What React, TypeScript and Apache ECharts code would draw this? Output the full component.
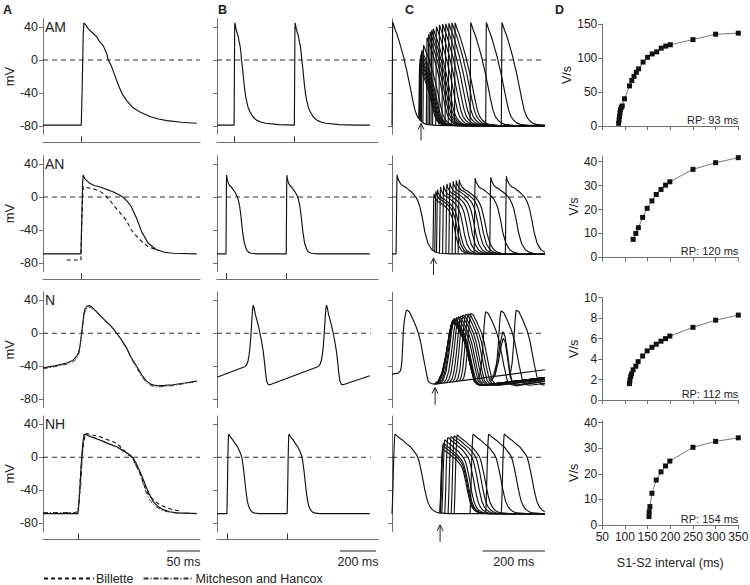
import React, { useEffect, useRef } from "react";
import * as echarts from "echarts";

type Pt = [number, number];

// ================= Column A: single action potentials (ms, mV) =================
// stimulus-relative AP shapes (t = 0 at stimulus)
const AP_AM: Pt[] = [[0,-79],[1.5,-30],[3,32],[4,45],[6,43.5],[10.5,38],[17,33],[23.5,28],[28,22],[33.5,17],[38.5,8],[41,0],[46,-8],[51,-19],[56,-30],[62,-41],[68.5,-49],[78,-57.5],[89,-63],[104,-68.5],[117,-71.5],[130,-73.5],[152,-75.5],[175,-76.7],[250,-78.3],[340,-79]];
const AP_AN: Pt[] = [[0,-69],[1.5,-20],[2.5,15],[3.4,26.7],[6,22],[13.4,16.6],[20,14],[28.4,12.5],[38,9.5],[48.4,6.4],[57,3],[63.4,0],[70,-5],[76.4,-11.8],[84.4,-25.8],[92,-42],[102,-56],[114.5,-64],[127,-67],[139.5,-68.2],[175.5,-69],[340,-69]];
const AP_NH: Pt[] = [[0,-68.4],[1.5,-55],[3,-37],[4.5,-15],[5.6,0],[7.5,18],[9,27],[10.6,28],[20,24.5],[33,21],[46,16.5],[58.7,12.8],[70,7.5],[79,2.8],[83.8,-1.2],[88,-7],[94,-17.3],[99,-27],[104,-37.3],[109,-46],[114,-53.5],[121,-59.5],[129,-63.5],[139,-66],[149.5,-67.5],[180,-68.4],[340,-68.4]];
const A_STIM_AM = 58;
const A_STIM_AN = 57.5;
const A_STIM_NH = 53;
const A_END = 233;
const A_N: Pt[] = [[0,-42],[18,-39.5],[36,-36],[45,-33],[51,-28],[54,-23],[56,-16],[57.5,-6],[58.6,0],[60.5,14],[62,24],[64,30],[67,33],[70,33.5],[74,32],[80,27],[86,22],[94,15.5],[101.5,10],[107,5],[111.7,0],[119,-8],[126.8,-18],[134,-30],[142,-40],[150,-51],[157,-58],[164,-62],[172,-63.6],[184,-63.2],[197,-62.4],[215,-60.3],[233,-58]];
const A_N_MH: Pt[] = [[0,-43],[18,-40.5],[36,-37.5],[45,-35],[51,-31],[54,-26],[56,-19],[57.5,-8],[59,0],[61,14],[63,24],[65,29],[68,31.5],[72,31.5],[78,27.5],[86,22],[94,15.5],[101.5,10],[107,5],[112,0],[119,-8.5],[127,-19],[134,-31],[142,-42],[150,-53],[157,-60],[164,-63.5],[172,-65],[184,-64.5],[197,-63.5],[215,-61],[233,-58.5]];
const A_AN_BILLETTE: Pt[] = [[36,-76.4],[57.5,-76.4],[58.5,-40],[60,0],[61,12.5],[66,11.5],[76,10],[86,7],[91,4.4],[96.5,0],[101.5,-4],[106,-9],[113,-15.8],[121,-23],[126,-28],[134,-40],[140,-46],[147,-52],[159,-60],[172,-64],[177,-65]];
const A_NH_BILLETTE: Pt[] = [[36,-67.5],[53,-67.5],[55,-50],[57,-20],[59,0],[62,20],[65,29],[75,27],[86,25],[99,21],[111.7,17],[121,10],[129,2.8],[132,2],[137,-3],[141,-10],[147,-19],[152,-31],[157,-41],[162,-47],[167,-51.5],[177,-57.5],[187,-61],[198,-63.8],[210,-65.5]];
const A_NH_MH: Pt[] = [[0,-67],[48,-67],[52,-66],[54,-58],[55,-45],[56.5,-42],[58,-25],[59.5,0],[61.5,18],[63,26],[65,28],[75,25],[90,20],[105,15],[118,9],[128,4],[134,0],[140,-8],[146,-18],[151,-30],[156,-42],[161,-51],[167,-57],[175,-62],[185,-65.5],[200,-67.5],[233,-68]];

// ================= Column B: paced / spontaneous trains =================
const B_STIM_AM = [95, 430];
const B_STIM_AN = [50, 385];
const B_STIM_NH = [55, 390];
const B_END = 850;
// nodal beat relative to its peak
const N_BEAT: Pt[] = [[-45,-40.3],[-37,-38],[-30,-34],[-24,-27],[-19,-18],[-14,-4],[-10,10],[-6,24],[-3,31],[0,34],[5,30],[12,22],[20,16],[28,9],[37,0],[46,-10],[55,-22],[62,-35],[68,-48],[74,-58],[83,-62],[92,-62.5]];
const B_N_PEAKS = [202, 609];
const B_N_START: Pt = [4, -53];
const B_N_END: Pt = [850, -51.6];

// ================= Column C: S1-S2 protocol =================
const C_END = 490;
const C_S1_AM: Pt[] = [[0,-79.5],[0.8,-40],[1.5,20],[2.1,46],[5,43],[10,37],[15,32.3],[22,24],[31,12],[37,4],[41.6,-4],[48,-14],[57.7,-32],[66,-48],[73.7,-61],[81,-68.5],[89.7,-73],[100,-76.5],[111,-78],[140,-79.2],[200,-79.5],[490,-79.5]];
const C_S1_T_AN = 13;
const C_S1_T_NH = 0;
const C_S1_N: Pt[] = [[0,-49.5],[20,-48.3],[26,-46],[28,-44],[30,-40],[32,-32],[34,-16],[36,0],[38.5,12],[41.6,20],[44,25],[47,28],[51,27.5],[55.5,26],[62,21],[68,16],[75,10],[81,4],[86,-2],[90,-8],[94,-15],[98,-24],[102,-32],[106,-40],[111,-50],[116,-58],[121,-60],[127,-61],[138,-61.6],[490,-44.3]];
const C_S1_REF_N = 26;
// two partial (sub-threshold) nodal humps
const C_N_HUMP_1: Pt[] = [[312,-57],[326,-50],[338,-32],[348,-10],[355,2],[362,-4],[370,-24],[378,-48],[386,-60],[398,-63],[490,-56]];
const C_N_HUMP_2: Pt[] = [[316,-58],[330,-51],[341,-34],[350,-15],[356,-6],[362,-10],[370,-30],[378,-52],[386,-61],[398,-64],[490,-58]];
const C_PEAK_AM = [-8,-4,0,3,6,9,12,18,27,31,34,36,38,40.5,42.5,43.5,44,44.5,45,45,45.5,45.5,45.5];
const C_APD_AM = [0.7,0.72,0.74,0.76,0.78,0.8,0.82,0.85,0.88,0.9,0.91,0.92,0.93,0.95,0.96,0.97,0.98,0.99,1,1,1,1,1];
const C_PEAK_AN = [4,7,9,12,14,16,17.5,19,20,21,23,24,25];
const C_APD_AN = [0.8,0.82,0.84,0.87,0.9,0.92,0.94,0.96,0.98,1,1,1,1];
const C_PEAK_N = [12,13,14,15,16,17,18,19,20,21,22,23,23.5,24,26,27,28];
const C_RISE_N = [60,58,56,54,51,48,45,42,38,35,32,30,28,27,24,23,22];
const C_PEAK_NH = [10,14,17,21,24,25,26,27,28,28,28];
const C_APD_NH = [0.85,0.87,0.88,0.9,0.93,0.95,0.97,1,1,1,1];
// nodal S2 response: rise (fraction of rise time, fraction of amplitude), repolarisation from peak
const N_RISE: Pt[] = [[0.2,0.05],[0.4,0.18],[0.6,0.45],[0.8,0.8],[0.9,0.93],[1,1]];
const N_REPOL: Pt[] = [[0,28],[8.5,26],[21,16],[34,4],[43,-8],[51,-24],[59,-40],[69,-57],[80,-62],[91,-63]];
const N_TAIL_SLOPE = 0.045;

// ================= Column D: Vmax vs S1-S2 interval =================
const D_AM: Pt[] = [[86,4],[87,9],[88,14],[89,19],[90,24],[92,27.5],[94,29.5],[99,40],[110,59],[115,67],[120,73],[125,79],[130,84],[140,94],[150,101],[160,106],[170,109],[180,114.5],[190,117.5],[200,119.5],[250,127],[300,135],[350,136.5]];
const D_AN: Pt[] = [[118,7.5],[124,10],[129.5,12.4],[139,16.7],[149,20.5],[159.5,23.6],[169,26.3],[179.5,28.4],[189.5,30.2],[199,31.6],[250,36.8],[300,39.6],[350,41.7]];
const D_N: Pt[] = [[110,1.6],[111,1.95],[112.5,2.3],[114.5,2.55],[118,2.95],[124,3.3],[129,3.75],[139,4.3],[149,4.8],[159.5,5.15],[169,5.45],[179.5,5.75],[189.5,6.0],[199,6.25],[250,7.1],[300,7.8],[350,8.3]];
const D_NH: Pt[] = [[153,3.3],[153.5,5.2],[155,7.2],[159.5,12.4],[169,17.6],[179.5,20.8],[189.5,23.1],[199,25],[250,30.4],[300,32.7],[350,34.1]];
const RP_MS = [93, 120, 112, 154];
const D_XTICKS = [50, 100, 150, 200, 250, 300, 350];
const D_YTICKS = [[0, 50, 100, 150], [0, 10, 20, 30, 40], [0, 2, 4, 6, 8, 10], [0, 10, 20, 30, 40]];
const MV_TICKS = [-80, -40, 0, 40];
const ROW_NAMES = ["AM", "AN", "N", "NH"];
const PANELS = ["A", "B", "C", "D"];
const SCALE_BARS: [number, number][] = [[188, 238], [684, 884], [290, 490]];

// ================= layout & style =================
const FONT = "'Liberation Sans', Arial, Helvetica, sans-serif";
const INK = "#111";
const AXIS = "#707070";
const TXT = "#222";
const ROW_TOP = [18.75, 155.75, 292, 416];
const ROW_H = 115.5;
const COL_LEFT = [43, 217, 392];
const COL_W = [157, 161, 153];
const COL_MAX = [238, 895, 490];
const ZERO_END = [238, 856, 490];
const D_LEFT = 602.3;
const D_W = 136;
const D_TOP = [24, 156, 297.7, 420.7];
const D_H = [102, 101.3, 102.3, 104.3];
const D_MAX = [150, 42.4, 10, 40.8];

// ================= builders =================
function stimTrain(shape: Pt[], stims: number[], tEnd: number): Pt[] {
  const out: Pt[] = [[0, shape[0][1]]];
  stims.forEach((s, i) => {
    const lim = i + 1 < stims.length ? stims[i + 1] : tEnd;
    for (const [t, v] of shape) if (s + t <= lim) out.push([s + t, v]);
  });
  const last = out[out.length - 1];
  if (last[0] < tEnd) out.push([tEnd, last[1]]);
  return out;
}
function beatTrain(beat: Pt[], peaks: number[], start: Pt, end: Pt): Pt[] {
  const out: Pt[] = [start];
  peaks.forEach((p) => beat.forEach(([t, v]) => out.push([p + t, v])));
  out.push(end);
  return out;
}
function valueAt(tr: Pt[], t: number): number {
  for (let i = 1; i < tr.length; i++) {
    if (tr[i][0] >= t) {
      const [t0, v0] = tr[i - 1];
      const [t1, v1] = tr[i];
      return t1 === t0 ? v1 : v0 + ((v1 - v0) * (t - t0)) / (t1 - t0);
    }
  }
  return tr[tr.length - 1][1];
}
function s2Response(tpl: Pt[], s: number, v0: number, peak: number, k: number, tEnd: number): Pt[] {
  let ip = 0;
  tpl.forEach((p, i) => { if (p[1] > tpl[ip][1]) ip = i; });
  const [tp, vp] = tpl[ip];
  const rest = tpl[0][1];
  const out: Pt[] = [[s, v0]];
  for (let i = 1; i < tpl.length; i++) {
    const [t, v] = tpl[i];
    let tt: number, vv: number;
    if (i <= ip) { tt = s + t; vv = v0 + ((peak - v0) * (v - rest)) / (vp - rest); }
    else { tt = s + tp + k * (t - tp); vv = rest + ((peak - rest) * (v - rest)) / (vp - rest); }
    if (tt > tEnd) break;
    out.push([tt, vv]);
  }
  const last = out[out.length - 1];
  if (last[0] < tEnd) out.push([tEnd, last[1]]);
  return out;
}
function nodalResponse(s: number, v0: number, peak: number, rise: number, tEnd: number): Pt[] {
  const out: Pt[] = [[s, v0]];
  N_RISE.forEach(([f, a]) => out.push([s + f * rise, v0 + a * (peak - v0)]));
  const tp = s + rise;
  const vp = N_REPOL[0][1];
  const vmin = N_REPOL[N_REPOL.length - 1][1];
  N_REPOL.slice(1).forEach(([t, v]) => out.push([tp + t, vmin + ((peak - vmin) * (v - vmin)) / (vp - vmin)]));
  const [tm, vm] = out[out.length - 1];
  if (tm < tEnd) out.push([tEnd, vm + N_TAIL_SLOPE * (tEnd - tm)]);
  return out;
}

const BILLETTE_DASH = [4, 3];
const MH_DASH = [5, 2, 1, 2];

function line(g: number, data: Pt[], extra: any = {}) {
  return {
    type: "line",
    xAxisIndex: g,
    yAxisIndex: g,
    data,
    symbol: "none",
    showSymbol: false,
    silent: true,
    animation: false,
    emphasis: { disabled: true },
    lineStyle: { color: INK, width: 1.15, ...(extra.lineStyle || {}) },
    z: extra.z ?? 3,
    ...(extra.name ? { name: extra.name } : {}),
  };
}

function buildOption() {
  const grid: any[] = [];
  const xAxis: any[] = [];
  const yAxis: any[] = [];
  const series: any[] = [];
  const graphic: any[] = [];

  const stimRows: (number[] | null)[][] = [
    [[A_STIM_AM], B_STIM_AM],
    [[A_STIM_AN], B_STIM_AN],
    [null, null],
    [[A_STIM_NH], B_STIM_NH],
  ];

  for (let r = 0; r < 4; r++) {
    for (let c = 0; c < 4; c++) {
      const g = r * 4 + c;
      if (c < 3) {
        grid.push({ left: COL_LEFT[c], top: ROW_TOP[r], width: COL_W[c], height: ROW_H, outerBoundsMode: "none" });
        const stims = c < 2 ? stimRows[r][c] : null;
        xAxis.push({
          gridIndex: g, type: "value", min: 0, max: COL_MAX[c], show: !!stims,
          position: "bottom", offset: 8,
          axisLine: { show: true, onZero: false, lineStyle: { color: AXIS, width: 1 } },
          axisTick: { show: true, inside: true, length: 6, customValues: stims || [], lineStyle: { color: "#333", width: 1 } },
          axisLabel: { show: false }, splitLine: { show: false },
        });
        yAxis.push({
          gridIndex: g, type: "value", min: -90, max: 50,
          axisLine: { show: true, onZero: false, lineStyle: { color: AXIS, width: 1 } },
          axisTick: { show: true, length: 4, customValues: MV_TICKS, lineStyle: { color: AXIS } },
          axisLabel: { show: c === 0, customValues: MV_TICKS, fontSize: 12.5, color: TXT, margin: 5, fontFamily: FONT },
          splitLine: { show: false },
          name: c === 0 ? "mV" : "", nameLocation: "middle", nameGap: 27, nameRotate: 90,
          nameTextStyle: { fontSize: 13, color: TXT, fontFamily: FONT },
        });
        series.push(line(g, [[0, 0], [ZERO_END[c], 0]], { lineStyle: { color: "#333", width: 1.1, type: [5, 4] }, z: 2 }));
      } else {
        grid.push({ left: D_LEFT, top: D_TOP[r], width: D_W, height: D_H[r], outerBoundsMode: "none" });
        xAxis.push({
          gridIndex: g, type: "value", min: 50, max: 350,
          axisLine: { show: true, onZero: false, lineStyle: { color: AXIS, width: 1 } },
          axisTick: { show: true, length: 4, customValues: D_XTICKS, lineStyle: { color: AXIS } },
          axisLabel: { show: r === 3, customValues: D_XTICKS, fontSize: 12, color: TXT, margin: 6, fontFamily: FONT },
          splitLine: { show: false },
          name: r === 3 ? "S1-S2 interval (ms)" : "", nameLocation: "middle", nameGap: 31,
          nameTextStyle: { fontSize: 12.5, color: TXT, fontFamily: FONT },
        });
        yAxis.push({
          gridIndex: g, type: "value", min: 0, max: D_MAX[r],
          axisLine: { show: true, onZero: false, lineStyle: { color: AXIS, width: 1 } },
          axisTick: { show: true, length: 4, customValues: D_YTICKS[r], lineStyle: { color: AXIS } },
          axisLabel: { show: true, customValues: D_YTICKS[r], fontSize: 12, color: TXT, margin: 5, fontFamily: FONT },
          splitLine: { show: false },
          name: "V/s", nameLocation: "middle", nameGap: 14, nameRotate: 90,
          nameTextStyle: { fontSize: 12.5, color: TXT, fontFamily: FONT },
        });
      }
    }
  }

  // ---- Column A ----
  series.push(line(0, stimTrain(AP_AM, [A_STIM_AM], A_END)));
  series.push(line(4, stimTrain(AP_AN, [A_STIM_AN], A_END)));
  series.push(line(4, A_AN_BILLETTE, { name: "Billette", lineStyle: { type: BILLETTE_DASH, width: 1.1 } }));
  series.push(line(8, A_N));
  series.push(line(8, A_N_MH, { name: "Mitcheson and Hancox", lineStyle: { type: MH_DASH, width: 1, color: "#333" } }));
  series.push(line(12, stimTrain(AP_NH, [A_STIM_NH], A_END)));
  series.push(line(12, A_NH_BILLETTE, { name: "Billette", lineStyle: { type: BILLETTE_DASH, width: 1.1 } }));
  series.push(line(12, A_NH_MH, { name: "Mitcheson and Hancox", lineStyle: { type: MH_DASH, width: 1, color: "#333" } }));

  // ---- Column B ----
  series.push(line(1, stimTrain(AP_AM, B_STIM_AM, B_END)));
  series.push(line(5, stimTrain(AP_AN, B_STIM_AN, B_END)));
  series.push(line(9, beatTrain(N_BEAT, B_N_PEAKS, B_N_START, B_N_END)));
  series.push(line(13, stimTrain(AP_NH, B_STIM_NH, B_END)));

  // ---- Column C ----
  const s1AM = C_S1_AM;
  series.push(line(2, s1AM));
  D_AM.forEach(([iv], i) => series.push(line(2, s2Response(C_S1_AM, iv, valueAt(s1AM, iv), C_PEAK_AM[i], C_APD_AM[i], C_END))));

  const s1AN = stimTrain(AP_AN, [C_S1_T_AN], C_END);
  series.push(line(6, s1AN));
  D_AN.forEach(([iv], i) => {
    const s = C_S1_T_AN + iv;
    series.push(line(6, s2Response(AP_AN, s, valueAt(s1AN, s), C_PEAK_AN[i], C_APD_AN[i], C_END)));
  });

  series.push(line(10, C_S1_N));
  D_N.forEach(([iv], i) => {
    const s = C_S1_REF_N + iv;
    series.push(line(10, nodalResponse(s, valueAt(C_S1_N, s), C_PEAK_N[i], C_RISE_N[i], C_END)));
  });
  series.push(line(10, C_N_HUMP_1));
  series.push(line(10, C_N_HUMP_2));

  const s1NH = stimTrain(AP_NH, [C_S1_T_NH], C_END);
  series.push(line(14, s1NH));
  D_NH.forEach(([iv], i) => {
    const s = C_S1_T_NH + iv;
    series.push(line(14, s2Response(AP_NH, s, valueAt(s1NH, s), C_PEAK_NH[i], C_APD_NH[i], C_END)));
  });

  // arrows marking the refractory period in column C
  const arrowT = [RP_MS[0], C_S1_T_AN + RP_MS[1], C_S1_REF_N + RP_MS[2], C_S1_T_NH + RP_MS[3]];
  const arrowTip = [-77, -74, -66, -82];
  for (let r = 0; r < 4; r++) {
    series.push({
      type: "custom", coordinateSystem: "cartesian2d", xAxisIndex: r * 4 + 2, yAxisIndex: r * 4 + 2,
      clip: false, silent: true, z: 5,
      data: [[arrowT[r], arrowTip[r]]],
      renderItem: (_p: any, api: any) => {
        const pt = api.coord([api.value(0), api.value(1)]);
        const x = pt[0], y = pt[1];
        return {
          type: "group",
          children: [
            { type: "line", shape: { x1: x, y1: y, x2: x, y2: y + 17 }, style: { stroke: "#222", lineWidth: 1 } },
            { type: "polyline", shape: { points: [[x - 3, y + 6], [x, y], [x + 3, y + 6]] }, style: { stroke: "#222", fill: null, lineWidth: 1 } },
          ],
        };
      },
    });
  }

  // scale bars under row 4 of A, B and C
  SCALE_BARS.forEach((bar, c) => {
    series.push({
      type: "custom", coordinateSystem: "cartesian2d", xAxisIndex: 12 + c, yAxisIndex: 12 + c,
      clip: false, silent: true, z: 5,
      data: [[bar[0], bar[1]]],
      renderItem: (_p: any, api: any) => {
        const a = api.coord([api.value(0), -90]);
        const b = api.coord([api.value(1), -90]);
        const y = a[1] + 19.5;
        return {
          type: "group",
          children: [
            { type: "line", shape: { x1: a[0], y1: y, x2: b[0], y2: y }, style: { stroke: "#222", lineWidth: 1 } },
            { type: "text", x: (a[0] + b[0]) / 2, y: y + 4, style: { text: `${api.value(1) - api.value(0)} ms`, textAlign: "center", textVerticalAlign: "top", fontSize: 12.5, fontFamily: FONT, fill: TXT } },
          ],
        };
      },
    });
  });

  // ---- Column D ----
  [D_AM, D_AN, D_N, D_NH].forEach((d, r) => {
    series.push({
      type: "line", xAxisIndex: r * 4 + 3, yAxisIndex: r * 4 + 3, data: d,
      symbol: "rect", symbolSize: 5, showSymbol: true, silent: true, animation: false,
      itemStyle: { color: INK }, lineStyle: { color: "#555", width: 0.8 }, emphasis: { disabled: true }, z: 3,
    });
  });

  // texts
  PANELS.forEach((p, i) => {
    graphic.push({ type: "text", x: [3, 218, 405, 555][i], y: 3, silent: true,
      style: { text: p, fontSize: 12.5, fontWeight: "bold", fontFamily: FONT, fill: TXT, textVerticalAlign: "top" } });
  });
  ROW_NAMES.forEach((n, r) => {
    graphic.push({ type: "text", x: COL_LEFT[0] + 2, y: ROW_TOP[r] + (ROW_H * 10) / 140, silent: true,
      style: { text: n, fontSize: 14, fontFamily: FONT, fill: TXT, textVerticalAlign: "middle" } });
  });
  RP_MS.forEach((rp, r) => {
    graphic.push({ type: "text", x: D_LEFT + D_W, y: D_TOP[r] + D_H[r] - 6, silent: true,
      style: { text: `RP: ${rp} ms`, fontSize: 11, fontFamily: FONT, fill: TXT, textAlign: "right", textVerticalAlign: "middle" } });
  });

  return {
    animation: false,
    backgroundColor: "#fff",
    textStyle: { fontFamily: FONT },
    grid, xAxis, yAxis, series, graphic,
    legend: {
      left: 43, top: 572, padding: 0, itemWidth: 50, itemHeight: 10, itemGap: 9, selectedMode: false,
      data: ["Billette", "Mitcheson and Hancox"],
      itemStyle: { opacity: 0 },
      textStyle: { fontSize: 12.5, color: TXT, fontFamily: FONT, padding: [0, 0, 0, -3] },
    },
  };
}

export default function App() {
  const ref = useRef<HTMLDivElement>(null);
  useEffect(() => {
    document.body.style.margin = "0";
    const chart = echarts.init(ref.current!, undefined, { renderer: "svg" });
    chart.setOption(buildOption() as any);
    return () => chart.dispose();
  }, []);
  return <div ref={ref} style={{ width: 750, height: 585 }} />;
}
